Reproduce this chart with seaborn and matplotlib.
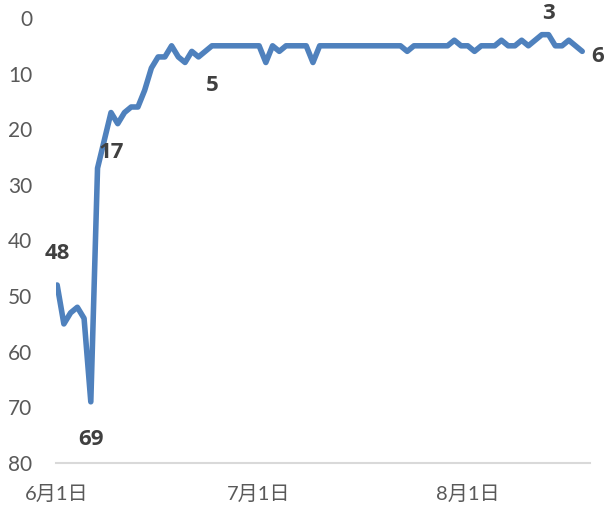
import numpy as np
import pandas as pd
import matplotlib.pyplot as plt
import seaborn as sns

# daily rank, 6/1 .. 8/18
dates = pd.date_range('2020-06-01', periods=79, freq='D')
rank = [48, 55, 53, 52, 54, 69, 27, 22, 17, 19,
        17, 16, 16, 13, 9, 7, 7, 5, 7, 8,
        6, 7, 6, 5, 5, 5, 5, 5, 5, 5,
        5, 8, 5, 6, 5, 5, 5, 5, 8, 5,
        5, 5, 5, 5, 5, 5, 5, 5, 5, 5,
        5, 5, 6, 5, 5, 5, 5, 5, 5, 4,
        5, 5, 6, 5, 5, 5, 4, 5, 5, 4,
        5, 4, 3, 3, 5, 5, 4, 5, 6]

# labelled points: index, offset (px), alignment
label_idx = [0, 5, 8, 23, 73, 78]
label_off = [(0, 31), (0, -38), (0, -40), (0, -40), (0, 21), (9, -5)]
label_ha = ['center', 'center', 'center', 'center', 'center', 'left']

tick_dates = pd.to_datetime(['2020-06-01', '2020-07-01', '2020-08-01'])
tick_labels = ['6月1日', '7月1日', '8月1日']
y_ticks = [0, 10, 20, 30, 40, 50, 60, 70, 80]

df = pd.DataFrame({'date': dates, 'rank': rank})

sns.set_style('white')
plt.rcParams['font.family'] = ['Lato', 'Noto Sans CJK JP', 'DejaVu Sans']

fig = plt.figure(figsize=(6.05, 5.08), dpi=100)
ax = fig.add_axes([0.0926, 0.0886, 0.882, 0.876])

sns.lineplot(data=df, x='date', y='rank', ax=ax, color='#4f81bd',
             linewidth=4, solid_joinstyle='round', solid_capstyle='round')

for i, (dx, dy), ha in zip(label_idx, label_off, label_ha):
    ax.annotate(str(rank[i]), (dates[i], rank[i]), xytext=(dx, dy),
                textcoords='offset pixels', ha=ha, va='center',
                fontsize=16, fontweight='bold', color='#404040',
                family=['Open Sans', 'DejaVu Sans'], annotation_clip=False)

ax.set_ylim(80, 0)
ax.set_yticks(y_ticks)
ax.set_xlim(dates[0] - pd.Timedelta(hours=4), dates[-1] + pd.Timedelta(days=1.1))
ax.set_xticks(tick_dates)
ax.set_xticklabels(tick_labels)
ax.set_xlabel('')
ax.set_ylabel('')

for s in ['top', 'right', 'left']:
    ax.spines[s].set_visible(False)
ax.spines['bottom'].set_color('#d9d9d9')
ax.spines['bottom'].set_linewidth(1.5)
ax.tick_params(axis='x', colors='#595959', labelsize=14.5, length=7, width=1.5,
               direction='out', pad=9)
ax.tick_params(axis='x', which='both', color='#d9d9d9')
ax.tick_params(axis='y', colors='#595959', labelsize=15, length=0, pad=17)

fig.savefig('out.png', dpi=100)
